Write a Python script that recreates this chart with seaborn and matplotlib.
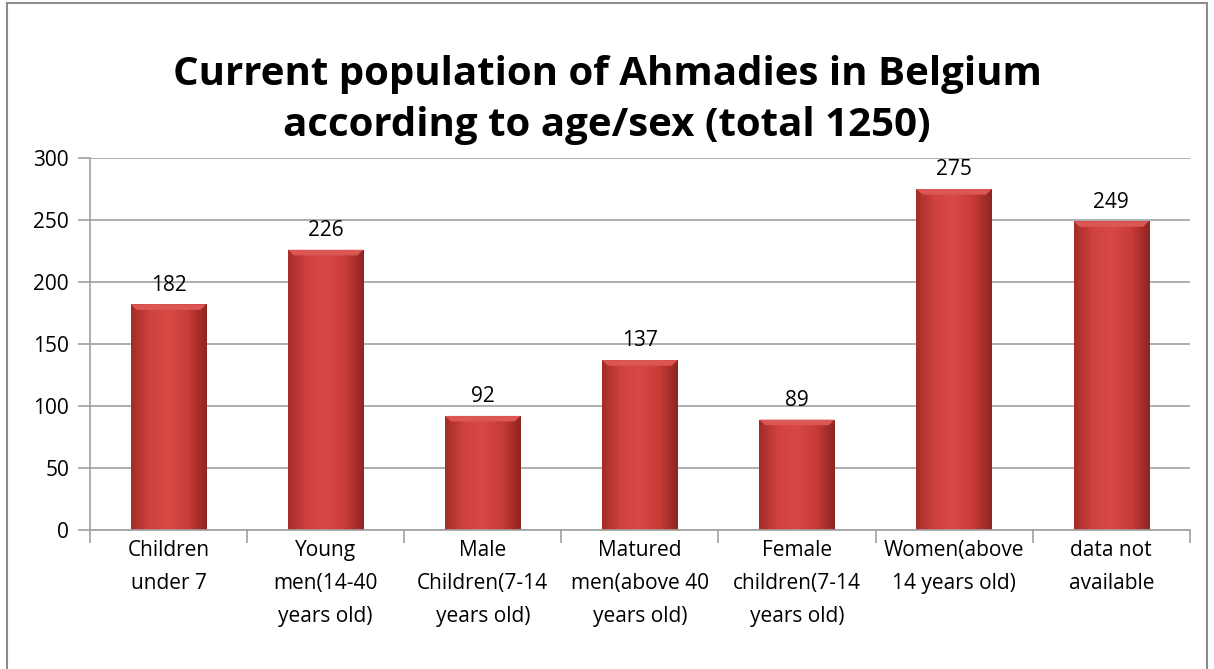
"""Current population of Ahmadies in Belgium by age/sex."""

import matplotlib

matplotlib.use("Agg")

import matplotlib.pyplot as plt
import numpy as np
import pandas as pd
import seaborn as sns
from matplotlib.colors import LinearSegmentedColormap
from matplotlib.patches import Polygon, Rectangle
from matplotlib.ticker import FixedLocator


TITLE = "Current population of Ahmadies in Belgium\naccording to age/sex (total 1250)"

categories = [
    "Children\nunder 7",
    "Young\nmen(14-40\nyears old)",
    "Male\nChildren(7-14\nyears old)",
    "Matured\nmen(above 40\nyears old)",
    "Female\nchildren(7-14\nyears old)",
    "Women(above\n14 years old)",
    "data not\navailable",
]
counts = [182, 226, 92, 137, 89, 275, 249]
y_ticks = [0, 50, 100, 150, 200, 250, 300]


def configure_theme() -> None:
    sns.set_theme(style="white")
    plt.rcParams["font.family"] = ["Open Sans", "DejaVu Sans"]
    plt.rcParams["text.color"] = "black"
    plt.rcParams["xtick.color"] = "black"
    plt.rcParams["ytick.color"] = "black"


def shade_bars(ax) -> None:
    # horizontal gradient: dark edges, lighter middle, mimicking the bevelled bars
    cmap = LinearSegmentedColormap.from_list(
        "bevel", ["#A32C29", "#D0423F", "#D84946", "#C83B38", "#8E2521"]
    )
    grad = np.linspace(0, 1, 256).reshape(1, -1)
    for patch in list(ax.patches):
        x0, y0 = patch.get_x(), patch.get_y()
        w, h = patch.get_width(), patch.get_height()
        patch.set_facecolor("none")
        patch.set_edgecolor("none")
        im = ax.imshow(
            grad, cmap=cmap, aspect="auto", extent=(x0, x0 + w, y0, y0 + h),
            zorder=2, interpolation="bicubic",
        )
        im.set_clip_path(patch)
        # lighter bevelled top
        bevel = 4.5
        inset = w * 0.08
        ax.add_patch(Polygon(
            [(x0, y0 + h), (x0 + w, y0 + h), (x0 + w - inset, y0 + h - bevel),
             (x0 + inset, y0 + h - bevel)],
            closed=True, facecolor="#DC5753", edgecolor="none", zorder=3,
        ))


def main() -> None:
    configure_theme()
    df = pd.DataFrame({"group": categories, "count": counts})

    fig = plt.figure(figsize=(12.14, 6.69), dpi=100)
    fig.patch.set_facecolor("white")
    ax = fig.add_axes([0.0741, 0.2078, 0.9060, 0.5560])

    sns.barplot(data=df, x="group", y="count", color="#C93C38", width=0.48,
                saturation=1, ax=ax)
    shade_bars(ax)

    for idx, val in enumerate(counts):
        ax.text(idx, val + 7, str(val), ha="center", va="bottom", fontsize=15, zorder=4)

    ax.set_xlim(-0.5, len(categories) - 0.5)
    ax.set_ylim(0, 300)
    ax.set_yticks(y_ticks)
    ax.yaxis.grid(True, color="#A0A0A0", linewidth=1.2)
    ax.set_axisbelow(True)

    ax.set_xticks(range(len(categories)))
    ax.set_xticklabels(categories, fontsize=15, linespacing=1.75)
    ax.xaxis.set_minor_locator(FixedLocator(np.arange(-0.5, len(categories), 1.0)))
    ax.tick_params(axis="x", which="major", length=0, pad=7)
    ax.tick_params(axis="x", which="minor", length=9, width=1.2, color="#A0A0A0",
                   bottom=True, direction="out")
    ax.tick_params(axis="y", length=9, width=1.2, color="#A0A0A0", left=True,
                   labelsize=15, pad=6)

    for side in ["top", "right"]:
        ax.spines[side].set_visible(False)
    for side in ["left", "bottom"]:
        ax.spines[side].set_color("#A0A0A0")
        ax.spines[side].set_linewidth(1.2)

    ax.set_xlabel("")
    ax.set_ylabel("")

    fig.text(0.5, 0.85, TITLE, ha="center", va="center", fontsize=29,
             fontweight="bold", linespacing=1.4)

    # outer chart frame
    fig.add_artist(Rectangle((0.006, -0.01), 0.988, 1.005, transform=fig.transFigure,
                             fill=False, edgecolor="#8C8C8C", linewidth=1.5))

    fig.savefig("out.png", dpi=100)
    plt.close(fig)


if __name__ == "__main__":
    main()
